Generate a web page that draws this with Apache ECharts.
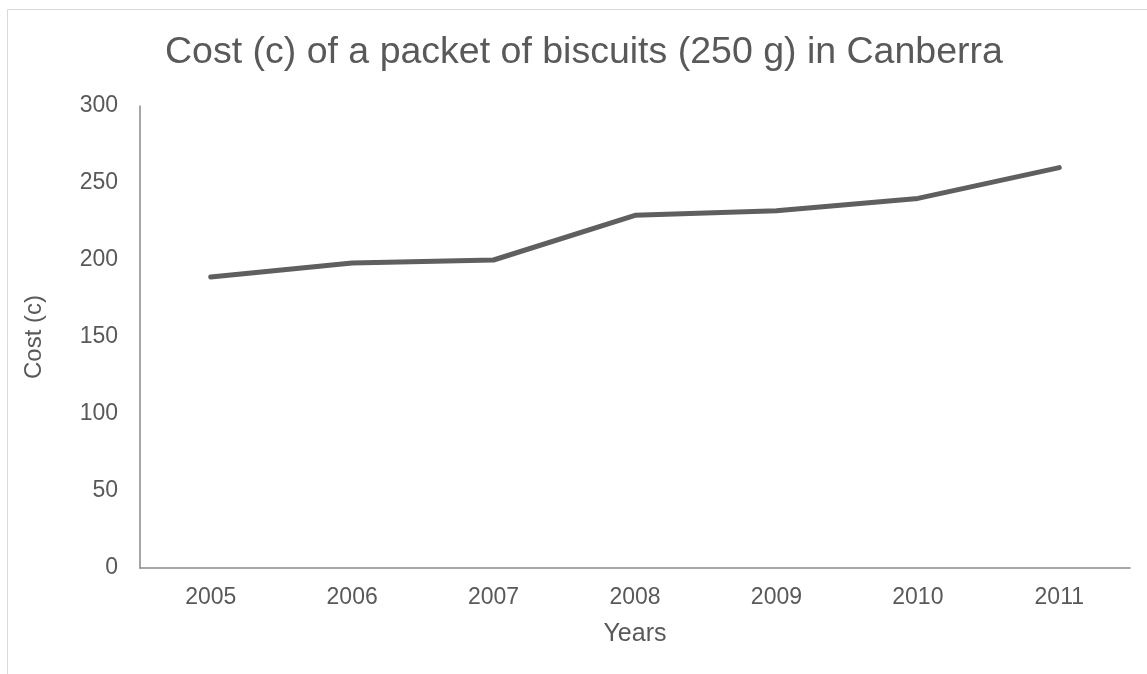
<!DOCTYPE html>
<html><head><meta charset="utf-8">
<script src="https://cdn.jsdelivr.net/npm/echarts@6/dist/echarts.min.js"></script>
<style>html,body{margin:0;padding:0;background:#fff}#c{width:1147px;height:674px}</style>
</head><body><div id="c"></div>
<script>
const titleText = 'Cost (c) of a packet of biscuits (250 g) in Canberra';
const years = ['2005','2006','2007','2008','2009','2010','2011'];
const costs = [189, 198, 200, 229, 232, 240, 260];
const yTicks = {min: 0, max: 300, interval: 50};
const xName = 'Years';
const yName = 'Cost (c)';

const chart = echarts.init(document.getElementById('c'));
const font = 'Liberation Sans, Arial, sans-serif';
chart.setOption({
  animation: false,
  backgroundColor: '#fff',
  graphic: [{type:'rect', shape:{x:7.5,y:9.5,width:1200,height:700}, style:{fill:'none',stroke:'#d9d9d9',lineWidth:1}, silent:true}],
  title: {text: titleText, left: 160, top: 29, textStyle:{fontFamily:font, fontSize:37.5, fontWeight:'normal', color:'#595959'}},
  grid: {left:140, right:17, top:106, bottom:106},
  xAxis: {type:'category', data: years, boundaryGap:true,
    name: xName, nameLocation:'middle', nameGap:54, nameTextStyle:{fontFamily:font,fontSize:25,color:'#595959'},
    axisLine:{lineStyle:{color:'#898989',width:1.5}}, axisTick:{show:false},
    axisLabel:{fontFamily:font,fontSize:23,color:'#595959',margin:18}},
  yAxis: {type:'value', min:yTicks.min, max:yTicks.max, interval:yTicks.interval,
    name: yName, nameLocation:'middle', nameGap:94, nameRotate:90, nameTextStyle:{fontFamily:font,fontSize:24,color:'#595959'},
    axisLine:{show:true,lineStyle:{color:'#898989',width:1.5}}, axisTick:{show:false}, splitLine:{show:false},
    axisLabel:{fontFamily:font,fontSize:23,color:'#595959',margin:22}},
  series: [{type:'line', data: costs, symbol:'none', lineStyle:{color:'#5f5f5f', width:5, cap:'round', join:'round'}}]
});
</script></body></html>
